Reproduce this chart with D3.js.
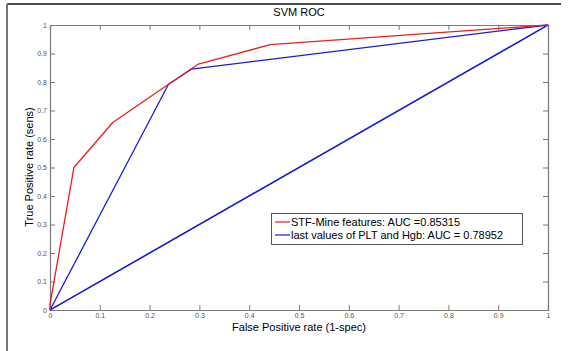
<!DOCTYPE html>
<html>
<head>
<meta charset="utf-8">
<script src="https://cdn.jsdelivr.net/npm/d3@7"></script>
<style>
  body { margin: 0; background: #fff; }
  text { font-family: Arial, "Liberation Sans", sans-serif; }
</style>
</head>
<body>
<svg id="chart" width="571" height="351"></svg>
<script>
// data
const stfFpr = [0, 0, 0.048, 0.126, 0.238, 0.298, 0.442, 1]
const stfTpr = [0, 0.02, 0.5, 0.658, 0.792, 0.863, 0.931, 1]
const pltFpr = [0, 0.238, 0.284, 1, 0]
const pltTpr = [0, 0.792, 0.845, 1, 0]
const diagFpr = [0, 1]
const diagTpr = [0, 1]
const ticks = [0, 0.1, 0.2, 0.3, 0.4, 0.5, 0.6, 0.7, 0.8, 0.9, 1]
const legendLabels = ["STF-Mine features: AUC =0.85315", "last values of PLT and Hgb: AUC = 0.78952"]
const colors = ["#ee1c1c", "#1c1cd8"]

let svg = d3.select("#chart")

//outer frame - only top and left show
svg.append("line").attr("x1", 7).attr("x2", 561).attr("y1", 4).attr("y2", 4)
  .attr("stroke", "#111").attr("stroke-width", 1.5)
svg.append("line").attr("x1", 7).attr("x2", 7).attr("y1", 4).attr("y2", 351)
  .attr("stroke", "#777").attr("stroke-width", 2)

let x = d3.scaleLinear().domain([0, 1]).range([50, 548])
let y = d3.scaleLinear().domain([0, 1]).range([310, 25])

//box + ticks
let axisCol = "#7a7a7a"
let fmt = d => d === 0 || d === 1 ? d3.format("d")(d) : d3.format(".1f")(d)
let gx = svg.append("g").attr("transform", `translate(0,${y(0)})`)
  .call(d3.axisBottom(x).tickValues(ticks).tickSize(-5).tickPadding(6).tickFormat(fmt))
let gxt = svg.append("g").attr("transform", `translate(0,${y(1)})`)
  .call(d3.axisTop(x).tickValues(ticks).tickSize(-5).tickFormat(""))
let gy = svg.append("g").attr("transform", `translate(${x(0)},0)`)
  .call(d3.axisLeft(y).tickValues(ticks).tickSize(-5).tickPadding(3).tickFormat(fmt))
let gyr = svg.append("g").attr("transform", `translate(${x(1)},0)`)
  .call(d3.axisRight(y).tickValues(ticks).tickSize(-5).tickFormat(""))

;[gx, gxt, gy, gyr].forEach(g => {
  g.select(".domain").attr("stroke", axisCol).attr("stroke-width", 1.2)
  g.selectAll(".tick line").attr("stroke", axisCol)
  g.selectAll(".tick text").attr("fill", "#555").style("font-size", "7px")
    .style("font-family", "Arial, 'Liberation Sans', sans-serif")
})
gx.selectAll(".tick text").attr("dy", "0.3em")

//curves
let line = (xs, ys) => d3.line()(xs.map((v, i) => [x(v), y(ys[i])]))
svg.append("path").attr("d", line(pltFpr, pltTpr)).attr("fill", "none")
  .attr("stroke", colors[1]).attr("stroke-width", 1.3).attr("stroke-linejoin", "round")
svg.append("path").attr("d", line(diagFpr, diagTpr)).attr("fill", "none")
  .attr("stroke", colors[1]).attr("stroke-width", 1.3)
svg.append("path").attr("d", line(stfFpr, stfTpr)).attr("fill", "none")
  .attr("stroke", colors[0]).attr("stroke-width", 1.3).attr("stroke-linejoin", "round")

//titles
svg.append("text").attr("x", 299).attr("y", 16).attr("text-anchor", "middle")
  .style("font-size", "11px").text("SVM ROC")
svg.append("text").attr("x", 299).attr("y", 331).attr("text-anchor", "middle")
  .style("font-size", "11px").text("False Positive rate (1-spec)")
svg.append("text").attr("transform", "translate(33,167) rotate(-90)").attr("text-anchor", "middle")
  .style("font-size", "11px").text("True Positive rate (sens)")

//legend
let lg = svg.append("g")
lg.append("rect").attr("x", 271.5).attr("y", 213.5).attr("width", 251).attr("height", 31)
  .attr("fill", "#fff").attr("stroke", "#555").attr("stroke-width", 1)
legendLabels.forEach((t, i) => {
  let ly = 222 + i * 13
  lg.append("line").attr("x1", 275).attr("x2", 290).attr("y1", ly).attr("y2", ly)
    .attr("stroke", colors[i]).attr("stroke-width", 1.2)
  lg.append("text").attr("x", 291).attr("y", ly + 4).style("font-size", "11px").text(t)
})
</script>
</body>
</html>
